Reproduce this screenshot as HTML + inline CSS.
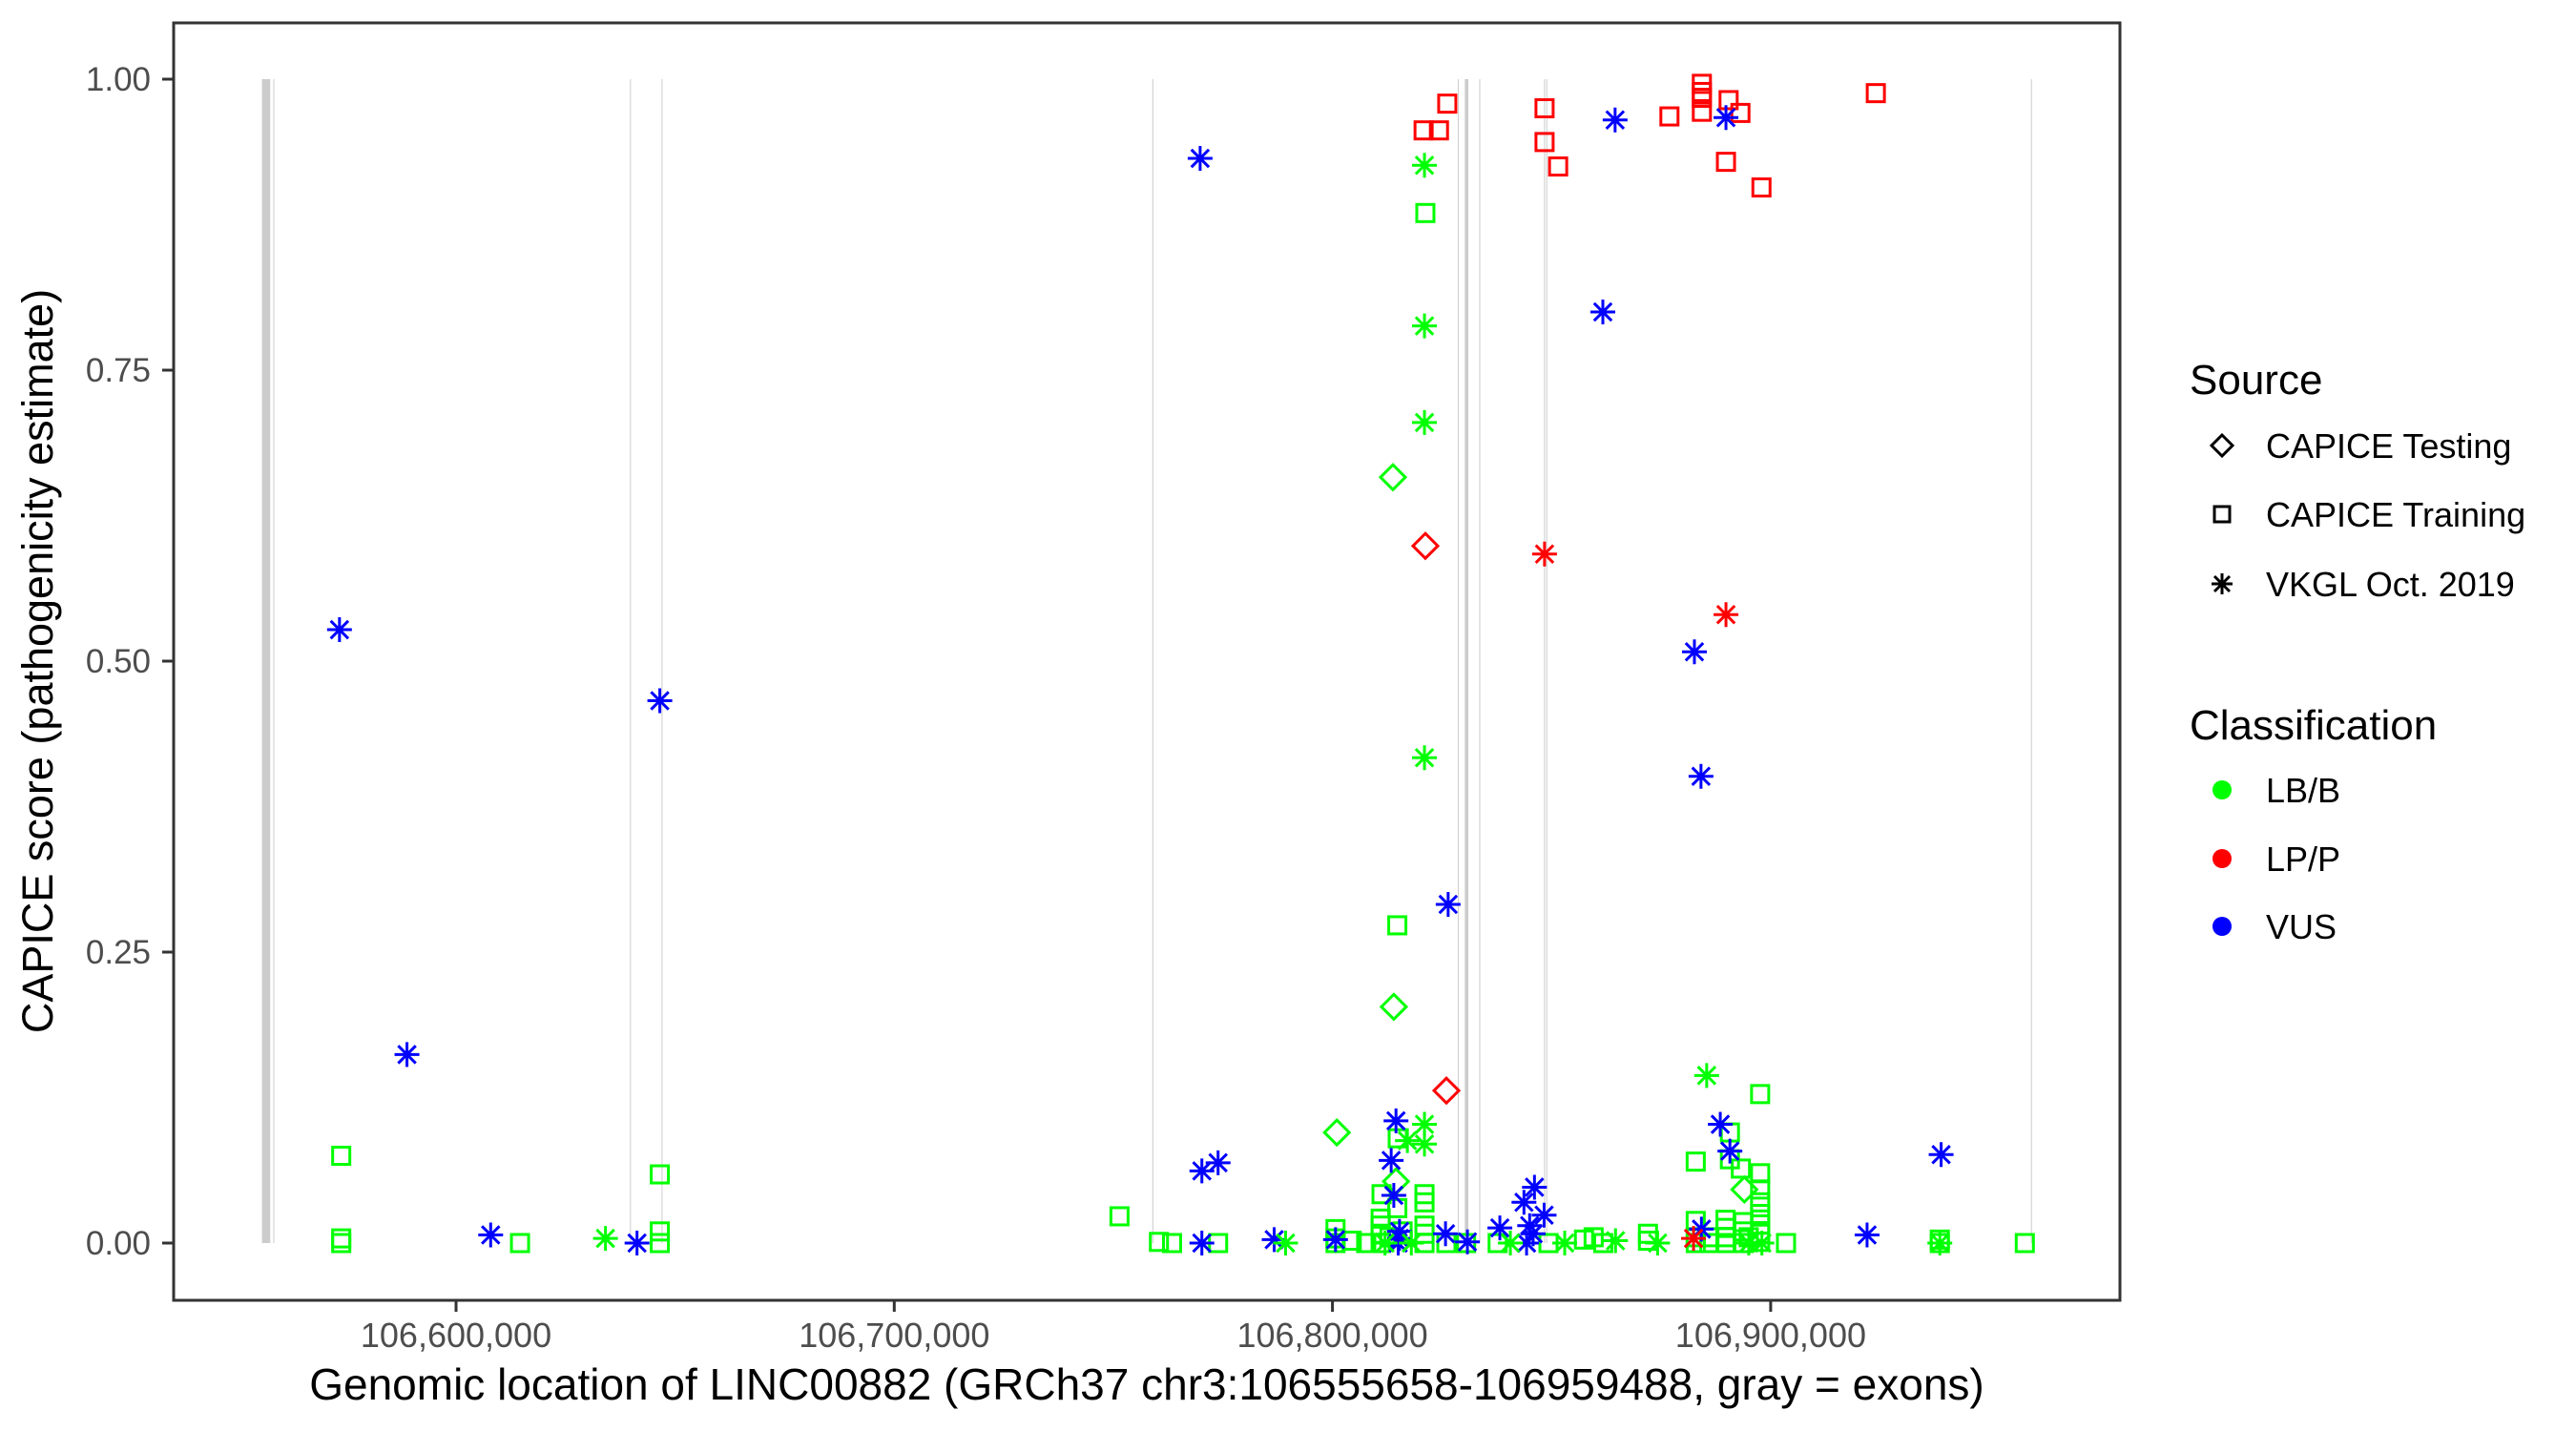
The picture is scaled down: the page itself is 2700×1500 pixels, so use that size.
<!DOCTYPE html>
<html><head><meta charset="utf-8"><style>
html,body{margin:0;padding:0;background:#fff}
svg{display:block;font-family:"Liberation Sans",Arial,sans-serif}
</style></head><body>
<svg id="chart" width="2700" height="1500" viewBox="0 0 2700 1500" xmlns="http://www.w3.org/2000/svg">
<rect x="0" y="0" width="2700" height="1500" fill="#fff"/>
<g id="exons"></g>
<g id="points"></g>
<rect x="182" y="24" width="2040" height="1339" fill="none" stroke="#333" stroke-width="3"/>
<g id="yaxis"></g>
<g id="xaxis"></g>
<text x="1202" y="1467" font-size="46" text-anchor="middle" fill="#000">Genomic location of LINC00882 (GRCh37 chr3:106555658-106959488, gray = exons)</text>
<text transform="translate(55,693) rotate(-90)" font-size="45" text-anchor="middle" fill="#000">CAPICE score (pathogenicity estimate)</text>
<g id="legend">
<text x="2295" y="413" font-size="44" fill="#000">Source</text>
<path d="M2329,456 L2340,467 L2329,478 L2318,467 Z" fill="none" stroke="#000" stroke-width="3"/>
<text x="2375" y="480" font-size="36" fill="#000">CAPICE Testing</text>
<rect x="2321" y="531" width="16" height="16" fill="none" stroke="#000" stroke-width="3"/>
<text x="2375" y="552" font-size="36" fill="#000">CAPICE Training</text>
<path d="M2329,601 V623 M2318,612 H2340 M2321,604 L2337,620 M2337,604 L2321,620" stroke="#000" stroke-width="3"/>
<text x="2375" y="625" font-size="36" fill="#000">VKGL Oct. 2019</text>
<text x="2295" y="775" font-size="44" fill="#000">Classification</text>
<circle cx="2329" cy="828" r="10" fill="#00ff00"/>
<text x="2375" y="841" font-size="36" fill="#000">LB/B</text>
<circle cx="2329" cy="900" r="10" fill="#ff0000"/>
<text x="2375" y="913" font-size="36" fill="#000">LP/P</text>
<circle cx="2329" cy="971" r="10" fill="#0000ff"/>
<text x="2375" y="984" font-size="36" fill="#000">VUS</text>
</g>
</svg>
<script>
// ---- data (positions in kb on chr3, scores 0..1) ----
const xTicksKb = [106600, 106700, 106800, 106900];
const xTickLabels = ["106,600,000", "106,700,000", "106,800,000", "106,900,000"];
const yTicks = [0, 0.25, 0.5, 0.75, 1];
const yTickLabels = ["0.00", "0.25", "0.50", "0.75", "1.00"];
const exonStartKb = [106555.7, 106558.3, 106639.7, 106646.9, 106758.9, 106828.6, 106830.2, 106833.5, 106848.3, 106848.8, 106959.4];
const exonEndKb   = [106557.6, 106558.5, 106639.8, 106647.0, 106759.0, 106828.7, 106831.0, 106833.6, 106848.4, 106848.9, 106959.5];

const trainPosKb = [106573.8,106573.8,106573.8,106614.6,106646.5,106646.5,106646.5,106751.4,106760.4,106763.4,106773.9,106800.7,106800.7,106800.7,106804.4,106807.7,106811,106811,106811,106811,106811.2,106814.9,106813,106814.8,106814.8,106816,106821,106821,106821,106821,106821,106821.2,106826,106830.5,106837.7,106849.3,106857.4,106859.6,106861.8,106872,106872,106882.9,106882.9,106882.9,106882.9,106886,106886,106889.7,106889.7,106889.7,106889.7,106890.7,106890.7,106893.2,106893.8,106893.8,106893.8,106897.6,106897.6,106897.6,106897.6,106897.6,106897.6,106897.6,106897.6,106895,106903.5,106938.6,106938.6,106958,
106826.2,106820.8,106824.3,106848.4,106848.4,106851.5,106876.9,106884.3,106884.3,106884.3,106884.3,106890.4,106893.1,106889.8,106897.9,106924.0];
const trainScore = [0.075,0.004,0,0,0.059,0.01,0,0.023,0.001,0,0,0.012,0.004,0,0.002,0,0,0.008,0.015,0.021,0.042,0.09,0.005,0.273,0.03,0.01,0.042,0.035,0.015,0.008,0,0.885,0,0,0,0,0.003,0.005,0,0.002,0.008,0.07,0.019,0.005,0,0,0.005,0,0.005,0.013,0.02,0.095,0.072,0.064,0.018,0.01,0,0.128,0.06,0.046,0.035,0.025,0.016,0.008,0.001,0.005,0,0.003,0,0,
0.979,0.956,0.956,0.975,0.946,0.925,0.968,0.996,0.989,0.984,0.972,0.982,0.971,0.929,0.907,0.988];
const trainClass = ["LB","LB","LB","LB","LB","LB","LB","LB","LB","LB","LB","LB","LB","LB","LB","LB","LB","LB","LB","LB","LB","LB","LB","LB","LB","LB","LB","LB","LB","LB","LB","LB","LB","LB","LB","LB","LB","LB","LB","LB","LB","LB","LB","LB","LB","LB","LB","LB","LB","LB","LB","LB","LB","LB","LB","LB","LB","LB","LB","LB","LB","LB","LB","LB","LB","LB","LB","LB","LB","LB",
"LP","LP","LP","LP","LP","LP","LP","LP","LP","LP","LP","LP","LP","LP","LP","LP"];

const testPosKb = [106801, 106813.8, 106814.0, 106814.5, 106894, 106821.2, 106826.0];
const testScore = [0.095, 0.658, 0.203, 0.053, 0.046, 0.599, 0.131];
const testClass = ["LB","LB","LB","LB","LB","LP","LP"];

const vkglPosKb = [106573.4,106588.8,106607.9,106641.3,106646.5,106769.8,106770.2,106773.9,106770.2,106786.7,106800.7,106814.5,106813.4,106814.0,106815.3,106815.3,106815,106825.8,106830.8,106838.2,106843.7,106846.1,106848.3,106845.8,106844.3,106845,106861.7,106864.5,106889.8,106882.6,106884.1,106826.4,106884.2,106888.5,106890.7,106922,106938.9,
106634.1,106789.3,106821,106821,106821,106821,106821,106821,106817.1,106840.6,106853,106864.6,106874.2,106885.4,106895,106898,106938.6,106812,106818,
106848.4,106889.8,106882.4];
const vkglScore = [0.527,0.162,0.007,0,0.466,0.932,0.062,0.069,0,0.003,0.003,0.105,0.071,0.041,0.01,0.004,0,0.008,0.001,0.013,0.035,0.048,0.024,0.008,0,0.015,0.8,0.965,0.967,0.508,0.401,0.291,0.012,0.102,0.079,0.007,0.076,
0.004,0,0.926,0.788,0.705,0.417,0.102,0.085,0.088,0,0,0.002,0,0.144,0,0,0,0,0,
0.592,0.54,0.004];
const vkglClass = ["VUS","VUS","VUS","VUS","VUS","VUS","VUS","VUS","VUS","VUS","VUS","VUS","VUS","VUS","VUS","VUS","VUS","VUS","VUS","VUS","VUS","VUS","VUS","VUS","VUS","VUS","VUS","VUS","VUS","VUS","VUS","VUS","VUS","VUS","VUS","VUS","VUS",
"LB","LB","LB","LB","LB","LB","LB","LB","LB","LB","LB","LB","LB","LB","LB","LB","LB","LB","LB",
"LP","LP","LP"];

// ---- scales ----
const NS = "http://www.w3.org/2000/svg";
const X0 = 478, KB_PX = 4.593, Y0 = 1303, Y1 = 83;
function xScale(kb){ return X0 + (kb - 106600) * KB_PX; }
function yScale(v){ return Y0 + (Y1 - Y0) * v; }
const colors = {LB:"#00ff00", LP:"#ff0000", VUS:"#0000ff"};
function mk(tag, attrs, parent){ const e=document.createElementNS(NS,tag); for(const k in attrs) e.setAttribute(k, attrs[k]); parent.appendChild(e); return e; }

// exons
const gEx = document.getElementById('exons');
for (let i=0;i<exonStartKb.length;i++){
  const xa = xScale(exonStartKb[i]), xb = xScale(exonEndKb[i]);
  const r = mk('rect',{x:xa, y:yScale(1), width:Math.max(1, xb-xa), height:yScale(0)-yScale(1), fill:"#cccccc"}, gEx);
  
  
}

// axes
const gy = document.getElementById('yaxis');
for (let i=0;i<yTicks.length;i++){
  const y = yScale(yTicks[i]);
  const t = mk('line',{x1:170,x2:182,y1:y,y2:y,stroke:"#333","stroke-width":3}, gy);
  
  
  const l = mk('text',{x:158,y:y+12,"font-size":35,"text-anchor":"end",fill:"#4d4d4d"}, gy);
  l.textContent = yTickLabels[i];
  
  
}
const gx = document.getElementById('xaxis');
for (let i=0;i<xTicksKb.length;i++){
  const x = xScale(xTicksKb[i]);
  const t = mk('line',{x1:x,x2:x,y1:1363,y2:1375,stroke:"#333","stroke-width":3}, gx);
  
  
  const l = mk('text',{x:x,y:1412,"font-size":36,"text-anchor":"middle",fill:"#4d4d4d"}, gx);
  l.textContent = xTickLabels[i];
  
  
}

// points
const gp = document.getElementById('points');
function square(x,y,c){ return mk('rect',{x:x-9,y:y-9,width:18,height:18,fill:"none",stroke:c,"stroke-width":3}, gp); }
function diamond(x,y,c){ return mk('path',{d:`M${x},${y-13} L${x+13},${y} L${x},${y+13} L${x-13},${y} Z`,fill:"none",stroke:c,"stroke-width":3}, gp); }
function star(x,y,c){ const r=13, d=9.2; return mk('path',{d:`M${x},${y-r} V${y+r} M${x-r},${y} H${x+r} M${x-d},${y-d} L${x+d},${y+d} M${x+d},${y-d} L${x-d},${y+d}`,stroke:c,"stroke-width":3}, gp); }

for (let i=0;i<trainPosKb.length;i++){
  const m = square(xScale(trainPosKb[i]), yScale(trainScore[i]), colors[trainClass[i]]);
  
  
}
for (let i=0;i<testPosKb.length;i++){
  const m = diamond(xScale(testPosKb[i]), yScale(testScore[i]), colors[testClass[i]]);
  
  
}
for (let i=0;i<vkglPosKb.length;i++){
  const m = star(xScale(vkglPosKb[i]), yScale(vkglScore[i]), colors[vkglClass[i]]);
  
  
}
</script>
</body></html>
